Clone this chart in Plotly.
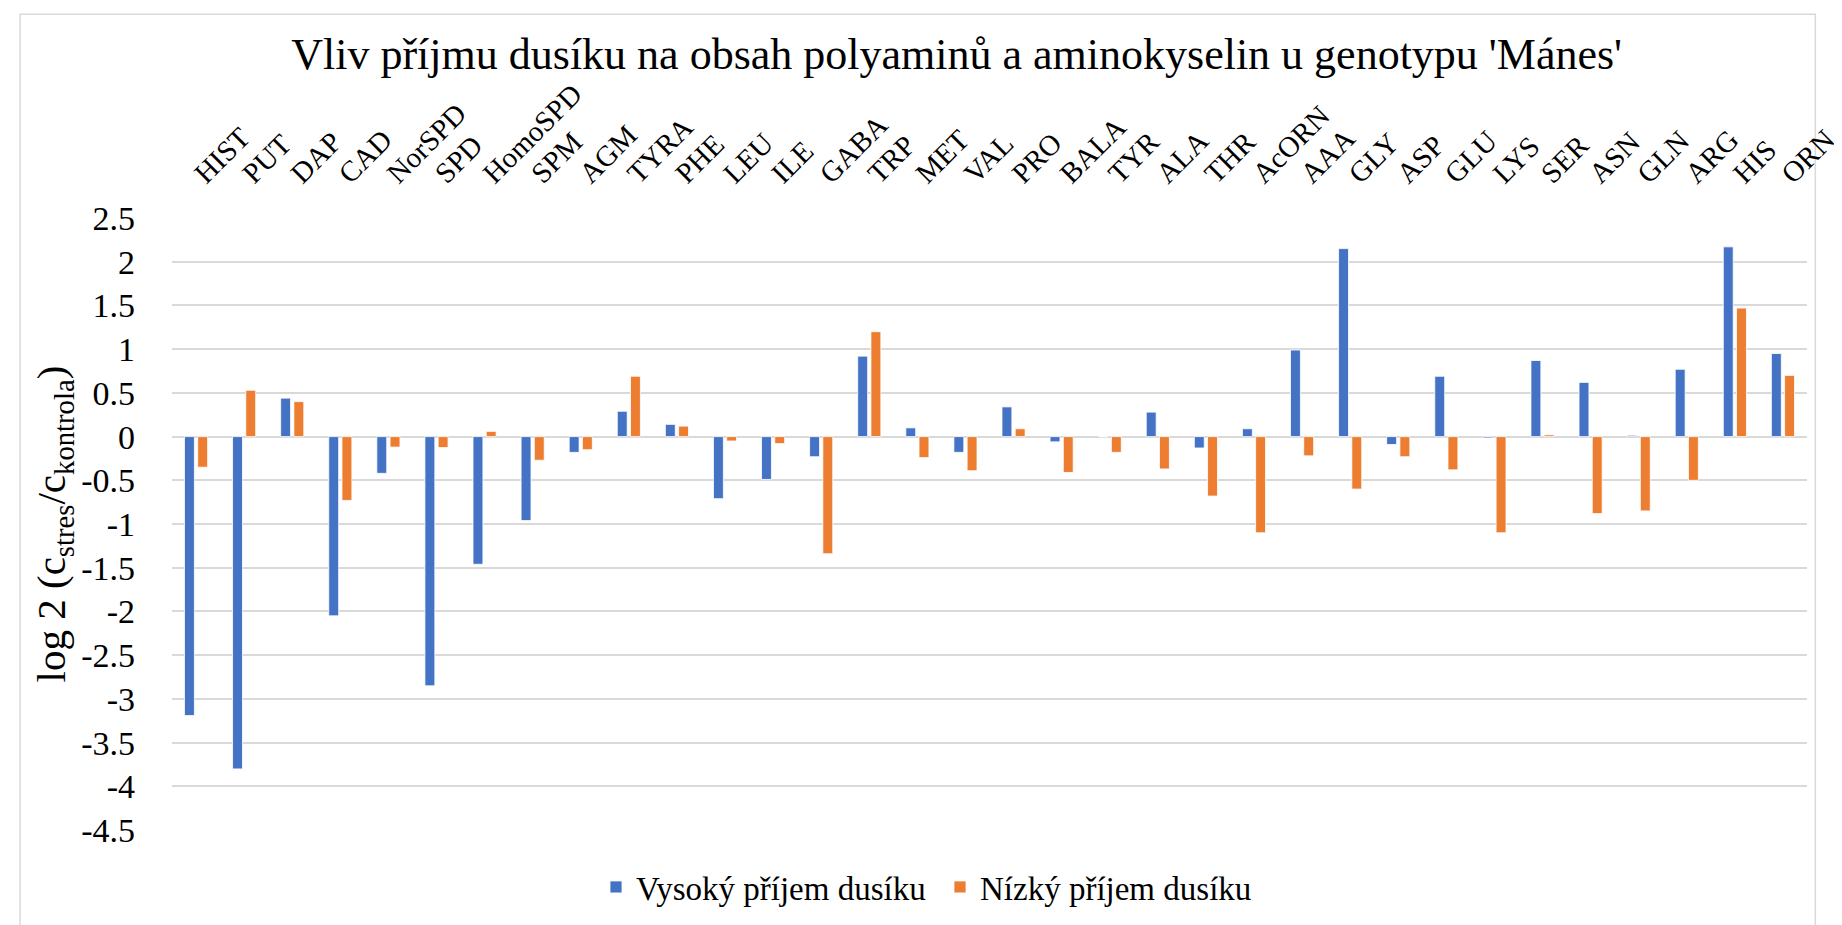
import plotly.graph_objects as go

# ---- data ----
categories = ["HIST", "PUT", "DAP", "CAD", "NorSPD", "SPD", "HomoSPD", "SPM", "AGM",
              "TYRA", "PHE", "LEU", "ILE", "GABA", "TRP", "MET", "VAL", "PRO", "BALA",
              "TYR", "ALA", "THR", "AcORN", "AAA", "GLY", "ASP", "GLU", "LYS", "SER",
              "ASN", "GLN", "ARG", "HIS", "ORN"]
vysoky = [-3.19, -3.80, 0.44, -2.05, -0.42, -2.85, -1.46, -0.96, -0.18,
          0.29, 0.14, -0.71, -0.49, -0.23, 0.92, 0.10, -0.18, 0.34, -0.06,
          0.0, 0.28, -0.13, 0.09, 0.99, 2.15, -0.09, 0.69, -0.015, 0.87,
          0.62, 0.015, 0.77, 2.17, 0.95]
nizky = [-0.35, 0.53, 0.40, -0.73, -0.12, -0.125, 0.06, -0.27, -0.15,
         0.69, 0.12, -0.05, -0.08, -1.34, 1.20, -0.24, -0.39, 0.09, -0.41,
         -0.18, -0.37, -0.68, -1.10, -0.22, -0.60, -0.23, -0.38, -1.10, 0.02,
         -0.88, -0.85, -0.50, 1.47, 0.70]
series_names = ["Vysoký příjem dusíku", "Nízký příjem dusíku"]
y_tickvals = [2.5, 2, 1.5, 1, 0.5, 0, -0.5, -1, -1.5, -2, -2.5, -3, -3.5, -4, -4.5]
y_ticktext = ["2.5", "2", "1.5", "1", "0.5", "0", "-0.5", "-1", "-1.5", "-2",
              "-2.5", "-3", "-3.5", "-4", "-4.5"]
title_text = "Vliv příjmu dusíku na obsah polyaminů a aminokyselin u genotypu 'Mánes'"
y_title = "log 2 (c<sub>stres</sub>/c<sub>kontrola</sub>)"

BLUE = "#4472C4"
ORANGE = "#ED7D31"
GRID = "#D9D9D9"
FONT = "Liberation Serif, Times New Roman, serif"

W, H = 1842, 925
ML, MR, MT, MB = 164, 10, 210, 102

fig = go.Figure()
fig.add_trace(go.Bar(x=categories, y=vysoky, name=series_names[0],
                     marker=dict(color=BLUE, line=dict(color="white", width=0.8))))
fig.add_trace(go.Bar(x=categories, y=nizky, name=series_names[1],
                     marker=dict(color=ORANGE, line=dict(color="white", width=0.8))))

pw = W - ML - MR
ph = H - MT - MB
# chart-area border (decoration)
fig.add_shape(type="rect", xref="paper", yref="paper",
              x0=(9 - ML) / pw, x1=(W - 1.5 - ML) / pw,
              y0=(H - MB - 921) / ph, y1=(H - MB - 6) / ph,
              line=dict(color=GRID, width=1.5), fillcolor="rgba(0,0,0,0)", layer="below")

fig.update_layout(
    width=W, height=H,
    margin=dict(l=ML, r=MR, t=MT, b=MB),
    paper_bgcolor="white", plot_bgcolor="white",
    font=dict(family=FONT, color="black"),
    barmode="group", bargap=0.45, bargroupgap=0.25,
    title=dict(text=title_text, x=0.515, xref="container", xanchor="center",
               y=1 - 46 / H, yref="container", yanchor="middle",
               font=dict(size=44, family=FONT, color="black")),
    legend=dict(orientation="h", x=588 / W, xref="container", xanchor="left",
                y=1 - 879 / H, yref="container", yanchor="middle",
                font=dict(size=33, family=FONT, color="black"),
                itemwidth=30, traceorder="normal",
                entrywidth=299, entrywidthmode="pixels"),
    showlegend=True,
)
fig.update_xaxes(side="top", tickangle=-45, showgrid=False, showline=False,
                 ticks="", tickfont=dict(size=29, family=FONT, color="black"),
                 ticklabelstandoff=22, zeroline=False)
fig.update_yaxes(range=[-4.5, 2.5], tickvals=y_tickvals, ticktext=y_ticktext,
                 showgrid=True, gridcolor=GRID, gridwidth=1.5,
                 zeroline=True, zerolinecolor=GRID, zerolinewidth=1.5,
                 showline=False, ticks="", ticklabelstandoff=36,
                 tickfont=dict(size=34, family=FONT, color="black"),
                 title=dict(text=y_title, font=dict(size=41, family=FONT, color="black"),
                            standoff=2))

fig.write_html("out.html")
